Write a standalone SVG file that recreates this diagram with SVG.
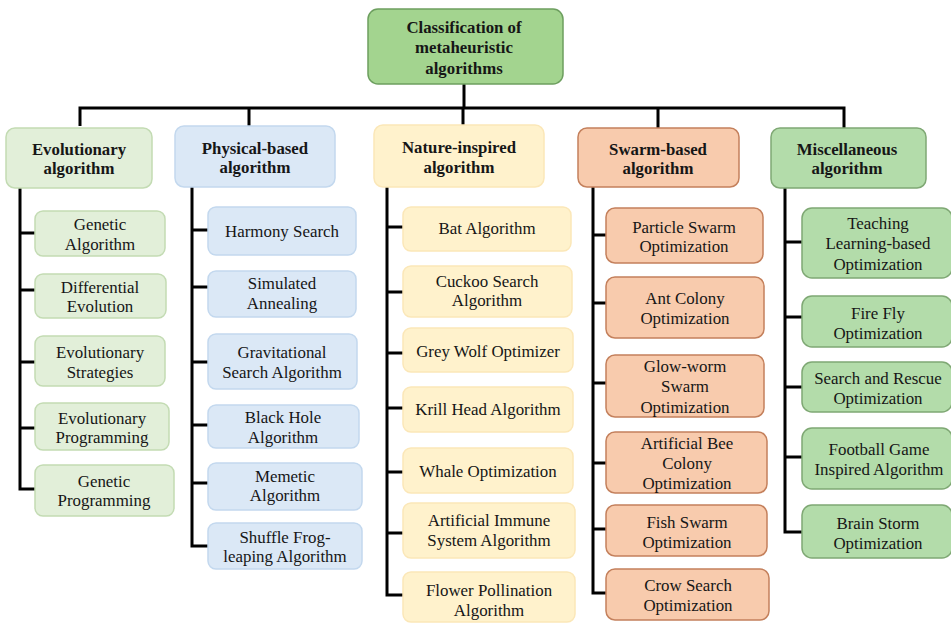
<svg xmlns="http://www.w3.org/2000/svg" width="951" height="625" viewBox="0 0 951 625">
<style>
text{font-family:"Liberation Serif","Times New Roman",serif;fill:#161616;text-anchor:middle;dominant-baseline:central}
.c{font-size:16.9px}
.h{font-size:16.8px;font-weight:bold}
.root rect{fill:#a3d48f;stroke:#6d9f5f;stroke-width:1.5}
.evo rect{fill:#e2efd9;stroke:#c3dbb3;stroke-width:1.5}
.phy rect{fill:#dbe8f6;stroke:#c3d8ee;stroke-width:1.5}
.nat rect{fill:#fff2cc;stroke:#fbe7b8;stroke-width:1.5}
.swa rect{fill:#f8cbad;stroke:#c4805c;stroke-width:1.5}
.mis rect{fill:#b3dcaa;stroke:#7fa874;stroke-width:1.5}
#connectors path{fill:none;stroke:#000;stroke-width:3;stroke-linejoin:miter}
</style>
<rect width="951" height="625" fill="#ffffff"/>
<g id="connectors">
<path d="M464 84V108" />
<path d="M80 126V108H844V128" stroke-width="4"/>
<path d="M249 108V126M463 108V125M658 108V128"/>
<path d="M20 188V489H35M20 233H35M20 290H35M20 362H35M20 428H35"/>
<path d="M192 187V546H208M192 230H208M192 287H208M192 362H208M192 425H208M192 483H208"/>
<path d="M387 187V595H403M387 227H403M387 292H403M387 353H403M387 408H403M387 472H403M387 533H403"/>
<path d="M593 187V593H606M593 235H606M593 303H606M593 383H606M593 463H606M593 529H606"/>
<path d="M785 188V532H802M785 242H802M785 317H802M785 387H802M785 457H802"/>
</g>
<g id="root" class="root"><rect x="368" y="9" width="195" height="75" rx="10"/><text class="h" x="464" y="27">Classification of</text><text class="h" x="464" y="47">metaheuristic</text><text class="h" x="464" y="68">algorithms</text></g>

<g id="cat-evolutionary" class="evo"><rect x="6" y="128" width="146" height="60" rx="9"/><text class="h" x="79" y="149">Evolutionary</text><text class="h" x="79" y="168">algorithm</text></g>
<g id="cat-physical" class="phy"><rect x="175" y="126" width="160" height="61" rx="9"/><text class="h" x="255" y="148">Physical-based</text><text class="h" x="255" y="167">algorithm</text></g>
<g id="cat-nature" class="nat"><rect x="374" y="125" width="170" height="62" rx="9"/><text class="h" x="459" y="147">Nature-inspired</text><text class="h" x="459" y="167">algorithm</text></g>
<g id="cat-swarm" class="swa"><rect x="578" y="128" width="161" height="59" rx="9"/><text class="h" x="658" y="149">Swarm-based</text><text class="h" x="658" y="168">algorithm</text></g>
<g id="cat-misc" class="mis"><rect x="771" y="128" width="155" height="60" rx="9"/><text class="h" x="847" y="149">Miscellaneous</text><text class="h" x="847" y="168">algorithm</text></g>

<g id="ga" class="evo"><rect x="35" y="211" width="130" height="45" rx="8"/><text class="c" x="100" y="224">Genetic</text><text class="c" x="100" y="244">Algorithm</text></g>
<g id="de" class="evo"><rect x="35" y="274" width="131" height="44" rx="8"/><text class="c" x="100" y="287">Differential</text><text class="c" x="100" y="306">Evolution</text></g>
<g id="es" class="evo"><rect x="35" y="336" width="130" height="50" rx="8"/><text class="c" x="100" y="352">Evolutionary</text><text class="c" x="100" y="372">Strategies</text></g>
<g id="ep" class="evo"><rect x="35" y="403" width="134" height="47" rx="8"/><text class="c" x="102" y="418">Evolutionary</text><text class="c" x="102" y="437">Programming</text></g>
<g id="gp" class="evo"><rect x="35" y="465" width="139" height="51" rx="8"/><text class="c" x="104" y="481">Genetic</text><text class="c" x="104" y="500">Programming</text></g>

<g id="hs" class="phy"><rect x="208" y="207" width="148" height="48" rx="8"/><text class="c" x="282" y="231">Harmony Search</text></g>
<g id="sa" class="phy"><rect x="208" y="271" width="148" height="46" rx="8"/><text class="c" x="282" y="283">Simulated</text><text class="c" x="282" y="303">Annealing</text></g>
<g id="gsa" class="phy"><rect x="208" y="334" width="149" height="55" rx="8"/><text class="c" x="282" y="352">Gravitational</text><text class="c" x="282" y="372">Search Algorithm</text></g>
<g id="bh" class="phy"><rect x="208" y="405" width="151" height="43" rx="8"/><text class="c" x="283" y="417">Black Hole</text><text class="c" x="283" y="437">Algorithm</text></g>
<g id="ma" class="phy"><rect x="208" y="463" width="154" height="47" rx="8"/><text class="c" x="285" y="476">Memetic</text><text class="c" x="285" y="495">Algorithm</text></g>
<g id="sfla" class="phy"><rect x="208" y="523" width="154" height="46" rx="8"/><text class="c" x="285" y="537">Shuffle Frog-</text><text class="c" x="285" y="556">leaping Algorithm</text></g>

<g id="ba" class="nat"><rect x="403" y="207" width="168" height="44" rx="8"/><text class="c" x="487" y="228">Bat Algorithm</text></g>
<g id="csa" class="nat"><rect x="403" y="266" width="169" height="51" rx="8"/><text class="c" x="487" y="281">Cuckoo Search</text><text class="c" x="487" y="300">Algorithm</text></g>
<g id="gwo" class="nat"><rect x="403" y="328" width="170" height="44" rx="8"/><text class="c" x="488" y="351">Grey Wolf Optimizer</text></g>
<g id="kha" class="nat"><rect x="403" y="387" width="170" height="45" rx="8"/><text class="c" x="488" y="409">Krill Head Algorithm</text></g>
<g id="woa" class="nat"><rect x="403" y="448" width="170" height="45" rx="8"/><text class="c" x="488" y="471">Whale Optimization</text></g>
<g id="aisa" class="nat"><rect x="403" y="503" width="172" height="55" rx="8"/><text class="c" x="489" y="520">Artificial Immune</text><text class="c" x="489" y="540">System Algorithm</text></g>
<g id="fpa" class="nat"><rect x="403" y="572" width="172" height="50" rx="8"/><text class="c" x="489" y="590">Flower Pollination</text><text class="c" x="489" y="610">Algorithm</text></g>

<g id="pso" class="swa"><rect x="606" y="208" width="157" height="55" rx="9"/><text class="c" x="684" y="227">Particle Swarm</text><text class="c" x="684" y="246">Optimization</text></g>
<g id="aco" class="swa"><rect x="606" y="277" width="158" height="61" rx="9"/><text class="c" x="685" y="298">Ant Colony</text><text class="c" x="685" y="318">Optimization</text></g>
<g id="gso" class="swa"><rect x="606" y="355" width="158" height="62" rx="9"/><text class="c" x="685" y="366">Glow-worm</text><text class="c" x="685" y="386">Swarm</text><text class="c" x="685" y="407">Optimization</text></g>
<g id="abc" class="swa"><rect x="606" y="432" width="161" height="61" rx="9"/><text class="c" x="687" y="443">Artificial Bee</text><text class="c" x="687" y="463">Colony</text><text class="c" x="687" y="483">Optimization</text></g>
<g id="fso" class="swa"><rect x="606" y="505" width="161" height="51" rx="9"/><text class="c" x="687" y="522">Fish Swarm</text><text class="c" x="687" y="542">Optimization</text></g>
<g id="cso" class="swa"><rect x="606" y="569" width="163" height="51" rx="9"/><text class="c" x="688" y="585">Crow Search</text><text class="c" x="688" y="605">Optimization</text></g>

<g id="tlbo" class="mis"><rect x="802" y="208" width="150" height="70" rx="10"/><text class="c" x="878" y="223">Teaching</text><text class="c" x="878" y="243">Learning-based</text><text class="c" x="878" y="264">Optimization</text></g>
<g id="ffo" class="mis"><rect x="802" y="296" width="150" height="51" rx="10"/><text class="c" x="878" y="313">Fire Fly</text><text class="c" x="878" y="333">Optimization</text></g>
<g id="sro" class="mis"><rect x="802" y="362" width="150" height="50" rx="10"/><text class="c" x="878" y="378">Search and Rescue</text><text class="c" x="878" y="398">Optimization</text></g>
<g id="fgia" class="mis"><rect x="802" y="428" width="150" height="61" rx="10"/><text class="c" x="879" y="449">Football Game</text><text class="c" x="879" y="469">Inspired Algorithm</text></g>
<g id="bso" class="mis"><rect x="802" y="505" width="150" height="53" rx="10"/><text class="c" x="878" y="523">Brain Storm</text><text class="c" x="878" y="543">Optimization</text></g>
</svg>
